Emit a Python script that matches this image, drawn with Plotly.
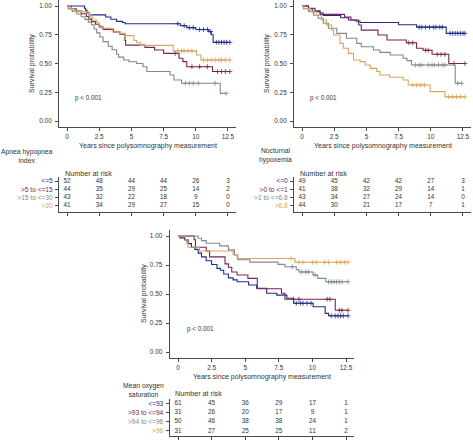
import plotly.graph_objects as go

W, H = 473, 441
FONT = "Liberation Sans, Arial, sans-serif"
TXT = "#333333"
AX = "#4a4a4a"

# ---------------- shared ticks ----------------
time_ticks = [0, 2.5, 5, 7.5, 10, 12.5]
time_tick_text = ["0", "2.5", "5", "7.5", "10", "12.5"]
prob_ticks = [0, 0.25, 0.5, 0.75, 1.0]
prob_tick_text = ["0.00", "0.25", "0.50", "0.75", "1.00"]
risk_times = [0, 2.5, 5, 7.5, 10, 12.5]
group_colors = ["#1f2c8f", "#7a2551", "#7d8b8c", "#d9a55c"]

# ---------------- Panel 1: Apnea hypopnea index ----------------
ahi_title = "Apnea hypopnea<br>index"
ahi_labels = ["<=5", ">5 to <=15", ">15 to <=30", ">30"]
ahi_g1_time = [0, 1.35, 1.45, 1.55, 1.7, 3.0, 3.4, 3.85, 4.3, 4.5, 8.8, 9.3, 10.0, 11.0, 11.2, 11.35]
ahi_g1_surv = [1.0, 0.981, 0.962, 0.942, 0.923, 0.904, 0.885, 0.866, 0.856, 0.846, 0.829, 0.812, 0.795, 0.777, 0.75, 0.684]
ahi_g1_cens = [8.6, 9.1, 9.5, 9.8, 10.3, 10.6, 10.9, 11.15, 11.6, 11.8, 12.0, 12.2, 12.4, 12.65]
ahi_g2_time = [0, 0.3, 0.7, 1.1, 1.5, 1.7, 1.9, 2.2, 2.5, 2.8, 3.6, 4.1, 4.5, 4.55, 6.05, 6.8, 7.5, 8.7, 9.0, 9.3, 11.3]
ahi_g2_surv = [1.0, 0.977, 0.955, 0.932, 0.909, 0.886, 0.864, 0.841, 0.818, 0.797, 0.775, 0.755, 0.70, 0.66, 0.64, 0.617, 0.588, 0.545, 0.516, 0.472, 0.43]
ahi_g2_cens = [8.4, 9.7, 10.3, 10.9, 11.7, 12.0, 12.3, 12.65]
ahi_g3_time = [0, 0.1, 0.4, 0.75, 1.1, 1.4, 1.65, 1.9, 2.1, 2.3, 2.55, 2.8, 3.2, 3.5, 3.85, 4.0, 4.4, 4.8, 5.4, 5.9, 6.2, 8.0, 8.3, 8.9, 11.9]
ahi_g3_surv = [1.0, 0.977, 0.953, 0.93, 0.907, 0.884, 0.86, 0.837, 0.80, 0.766, 0.73, 0.69, 0.65, 0.62, 0.58, 0.555, 0.53, 0.515, 0.50, 0.472, 0.43, 0.40, 0.357, 0.328, 0.24]
ahi_g3_cens = [9.2, 9.5, 9.8, 10.2, 11.5, 12.35]
ahi_g4_time = [0, 0.25, 0.6, 1.65, 1.85, 2.0, 2.3, 2.5, 2.7, 3.5, 4.1, 4.5, 5.2, 5.4, 5.7, 8.25, 10.05, 10.4]
ahi_g4_surv = [1.0, 0.976, 0.951, 0.927, 0.902, 0.878, 0.854, 0.829, 0.805, 0.781, 0.762, 0.742, 0.70, 0.68, 0.658, 0.61, 0.574, 0.53]
ahi_g4_cens = [8.6, 8.9, 9.1, 9.4, 9.7, 10.6, 10.9, 11.2, 11.5, 11.8, 12.0, 12.3, 12.65]
ahi_risk_g1 = [52, 48, 44, 44, 26, 3]
ahi_risk_g2 = [44, 35, 29, 25, 14, 2]
ahi_risk_g3 = [43, 32, 22, 18, 9, 0]
ahi_risk_g4 = [41, 34, 29, 27, 15, 0]

# ---------------- Panel 2: Nocturnal hypoxemia ----------------
nh_title = "Nocturnal<br>hypoxemia"
nh_labels = ["<=0", ">0 to <=1", ">1 to <=6.8", ">6.8"]
nh_g1_time = [0, 0.5, 1.0, 1.4, 1.65, 3.0, 3.6, 4.2, 4.5, 7.5, 8.9, 11.2]
nh_g1_surv = [1.0, 0.98, 0.959, 0.939, 0.918, 0.898, 0.878, 0.867, 0.857, 0.837, 0.816, 0.762]
nh_g1_cens = [9.1, 9.3, 9.6, 9.9, 10.2, 10.4, 10.7, 10.9, 11.5, 11.7, 11.9, 12.1, 12.3, 12.5, 12.65]
nh_g2_time = [0, 0.5, 0.8, 1.4, 3.3, 3.8, 4.4, 4.6, 5.9, 6.6, 8.1, 8.9, 9.4, 10.1, 11.4]
nh_g2_surv = [1.0, 0.976, 0.951, 0.927, 0.903, 0.878, 0.835, 0.79, 0.748, 0.704, 0.68, 0.632, 0.615, 0.58, 0.50]
nh_g2_cens = [8.3, 8.6, 9.6, 9.8, 10.5, 10.8, 11.1, 11.8, 12.65]
nh_g3_time = [0, 0.1, 0.5, 0.9, 1.25, 1.65, 2.05, 2.7, 3.45, 4.25, 4.6, 5.55, 6.05, 6.85, 7.85, 8.15, 8.5, 11.9]
nh_g3_surv = [1.0, 0.977, 0.953, 0.92, 0.893, 0.85, 0.806, 0.762, 0.72, 0.675, 0.646, 0.617, 0.597, 0.574, 0.545, 0.525, 0.487, 0.328]
nh_g3_cens = [8.8, 9.1, 9.3, 9.8, 10.1, 10.3, 10.6, 10.9, 11.1, 12.1, 12.4]
nh_g4_time = [0, 0.15, 0.6, 1.15, 1.5, 1.9, 2.3, 2.45, 2.95, 3.2, 3.6, 4.0, 4.5, 4.9, 5.3, 5.8, 6.05, 6.8, 7.85, 8.25, 9.95, 11.1]
nh_g4_surv = [1.0, 0.977, 0.95, 0.92, 0.878, 0.835, 0.79, 0.748, 0.675, 0.632, 0.588, 0.53, 0.516, 0.487, 0.458, 0.43, 0.40, 0.38, 0.357, 0.313, 0.255, 0.21]
nh_g4_cens = [8.6, 8.9, 9.2, 9.5, 11.4, 11.7, 12.0, 12.3, 12.65]
nh_risk_g1 = [49, 45, 42, 42, 27, 3]
nh_risk_g2 = [41, 38, 32, 29, 14, 1]
nh_risk_g3 = [43, 34, 27, 24, 14, 0]
nh_risk_g4 = [44, 30, 21, 17, 7, 1]

# ---------------- Panel 3: Mean oxygen saturation ----------------
mos_title = "Mean oxygen<br>saturation"
mos_labels = ["<=93", ">93 to <=94", ">94 to <=96", ">96"]
mos_g1_time = [0, 0.15, 0.5, 0.75, 1.0, 1.25, 1.5, 1.75, 2.1, 2.5, 2.9, 3.15, 3.4, 3.75, 4.1, 4.4, 5.25, 5.85, 6.6, 7.35, 8.1, 8.6, 10.05, 10.95, 11.2]
mos_g1_surv = [1.0, 0.984, 0.967, 0.934, 0.902, 0.885, 0.852, 0.82, 0.787, 0.754, 0.721, 0.705, 0.672, 0.639, 0.622, 0.606, 0.578, 0.549, 0.506, 0.49, 0.463, 0.42, 0.39, 0.333, 0.312]
mos_g1_cens = [8.8, 9.1, 9.3, 9.6, 9.9, 11.4, 11.7, 11.9, 12.1, 12.3, 12.65]
mos_g2_time = [0, 1.2, 1.3, 2.1, 2.35, 3.5, 3.75, 4.0, 4.4, 5.2, 5.9, 7.7, 7.95, 11.7]
mos_g2_surv = [1.0, 0.968, 0.903, 0.871, 0.82, 0.76, 0.73, 0.69, 0.664, 0.635, 0.545, 0.506, 0.455, 0.36]
mos_g2_cens = [8.6, 9.0, 11.1, 11.3, 12.0, 12.2, 12.65]
mos_g3_time = [0, 1.5, 1.75, 2.1, 3.1, 3.75, 4.2, 4.45, 5.35, 7.45, 7.95, 8.8, 9.0, 10.05, 10.4, 11.0]
mos_g3_surv = [1.0, 0.98, 0.96, 0.937, 0.915, 0.88, 0.836, 0.795, 0.775, 0.755, 0.735, 0.71, 0.69, 0.664, 0.635, 0.605]
mos_g3_cens = [8.5, 9.2, 9.5, 9.7, 10.2, 11.2, 11.4, 11.6, 11.8, 12.0, 12.2, 12.65]
mos_g4_time = [0, 0.55, 0.65, 0.75, 1.6, 4.1, 4.4, 8.7]
mos_g4_surv = [1.0, 0.968, 0.935, 0.903, 0.871, 0.839, 0.806, 0.774]
mos_g4_cens = [8.4, 9.0, 9.3, 10.0, 10.3, 10.9, 11.2, 11.8, 12.1, 12.4, 12.65]
mos_risk_g1 = [61, 45, 36, 29, 17, 1]
mos_risk_g2 = [31, 26, 20, 17, 9, 1]
mos_risk_g3 = [50, 46, 38, 38, 24, 1]
mos_risk_g4 = [31, 27, 25, 25, 11, 2]

# ---------------- layout geometry (pixels) ----------------
panels = [
    dict(title=ahi_title, labels=ahi_labels,
         times=[ahi_g1_time, ahi_g2_time, ahi_g3_time, ahi_g4_time],
         survs=[ahi_g1_surv, ahi_g2_surv, ahi_g3_surv, ahi_g4_surv],
         cens=[ahi_g1_cens, ahi_g2_cens, ahi_g3_cens, ahi_g4_cens],
         risks=[ahi_risk_g1, ahi_risk_g2, ahi_risk_g3, ahi_risk_g4],
         xpx=(59, 236), main_ypx=(0.25, 126.75), tab_ypx=(176.8, 212.0),
         tab_range=(0.265, 4.506), xtitle_y=146.5, ytitle_x=32.5,
         nar_y=173, grp_x=27, grp_y=156),
    dict(title=nh_title, labels=nh_labels,
         times=[nh_g1_time, nh_g2_time, nh_g3_time, nh_g4_time],
         survs=[nh_g1_surv, nh_g2_surv, nh_g3_surv, nh_g4_surv],
         cens=[nh_g1_cens, nh_g2_cens, nh_g3_cens, nh_g4_cens],
         risks=[nh_risk_g1, nh_risk_g2, nh_risk_g3, nh_risk_g4],
         xpx=(294, 471), main_ypx=(0.25, 126.75), tab_ypx=(176.8, 212.0),
         tab_range=(0.265, 4.506), xtitle_y=146.5, ytitle_x=267.5,
         nar_y=173, grp_x=275, grp_y=156),
    dict(title=mos_title, labels=mos_labels,
         times=[mos_g1_time, mos_g2_time, mos_g3_time, mos_g4_time],
         survs=[mos_g1_surv, mos_g2_surv, mos_g3_surv, mos_g4_surv],
         cens=[mos_g1_cens, mos_g2_cens, mos_g3_cens, mos_g4_cens],
         risks=[mos_risk_g1, mos_risk_g2, mos_risk_g3, mos_risk_g4],
         xpx=(169.6, 354.4), main_ypx=(230.2, 357.8), tab_ypx=(398.7, 435.5),
         tab_range=(0.511, 4.498), xtitle_y=377, ytitle_x=144,
         nar_y=393.8, grp_x=143, grp_y=390),
]


def fx(px):
    return px / W


def fy(py):
    return 1 - py / H


def surv_at(times, survs, t):
    v = survs[0]
    for ti, si in zip(times, survs):
        if ti <= t:
            v = si
    return v


fig = go.Figure()
layout = dict(
    template="none",
    width=W, height=H, margin=dict(l=0, r=0, t=0, b=0, autoexpand=False),
    paper_bgcolor="white", plot_bgcolor="white", showlegend=False,
    font=dict(family=FONT, size=6.5, color=TXT),
)
annotations = []
XR = [-0.625, 13.125]

for p_i, p in enumerate(panels):
    mi = 2 * p_i + 1
    ti = 2 * p_i + 2
    mx, my = f"x{mi if mi > 1 else ''}", f"y{mi if mi > 1 else ''}"
    tx, ty = f"x{ti}", f"y{ti}"
    xdom = [fx(p["xpx"][0]), fx(p["xpx"][1])]

    # main KM axes
    layout[f"xaxis{mi if mi > 1 else ''}"] = dict(
        domain=xdom, range=XR, anchor=my, showgrid=False, zeroline=False,
        automargin=False,
        showline=True, linecolor=AX, linewidth=1, ticks="outside", ticklen=3,
        tickcolor=AX, tickwidth=1, tickvals=time_ticks, ticktext=time_tick_text,
        tickfont=dict(size=6.4, color=TXT), ticklabelstandoff=1)
    layout[f"yaxis{mi if mi > 1 else ''}"] = dict(
        domain=[fy(p["main_ypx"][1]), fy(p["main_ypx"][0])], range=[-0.05, 1.05],
        anchor=mx, showgrid=False, zeroline=False, showline=True, linecolor=AX,
        automargin=False,
        linewidth=1, ticks="outside", ticklen=3, tickcolor=AX, tickwidth=1,
        tickvals=prob_ticks, ticktext=prob_tick_text,
        tickfont=dict(size=6.4, color=TXT), ticklabelstandoff=2)

    # risk table axes
    layout[f"xaxis{ti}"] = dict(
        domain=xdom, range=XR, anchor=ty, showgrid=False, zeroline=False,
        automargin=False,
        showline=True, linecolor=AX, linewidth=1, ticks="outside", ticklen=3,
        tickcolor=AX, tickwidth=1, tickvals=time_ticks, showticklabels=False)
    layout[f"yaxis{ti}"] = dict(
        domain=[fy(p["tab_ypx"][1]), fy(p["tab_ypx"][0])], range=list(p["tab_range"]),
        anchor=tx, showgrid=False, zeroline=False, showline=True, linecolor=AX,
        automargin=False,
        linewidth=1, ticks="outside", ticklen=3, tickcolor=AX, tickwidth=1,
        tickvals=[4, 3, 2, 1],
        ticktext=[f"<span style='color:{c}'>{lab}</span>"
                  for c, lab in zip(group_colors, p["labels"])],
        tickfont=dict(size=6.6), ticklabelstandoff=1)

    # curves
    for g in range(4):
        t, s, c = p["times"][g], p["survs"][g], p["cens"][g]
        end = max(c[-1], t[-1])
        fig.add_trace(go.Scatter(
            x=t + [end], y=s + [s[-1]], mode="lines", line_shape="hv",
            line=dict(color=group_colors[g], width=1.1), xaxis=mx, yaxis=my,
            hoverinfo="skip", cliponaxis=False))
        fig.add_trace(go.Scatter(
            x=c, y=[surv_at(t, s, ci) for ci in c], mode="markers",
            marker=dict(symbol="cross-thin", size=3.5,
                        line=dict(color=group_colors[g], width=0.8)),
            xaxis=mx, yaxis=my, hoverinfo="skip", cliponaxis=False))
        # numbers at risk
        fig.add_trace(go.Scatter(
            x=risk_times, y=[4 - g] * len(risk_times), mode="text",
            text=[str(v) for v in p["risks"][g]],
            textfont=dict(size=6.3, color=TXT, family=FONT),
            textposition="middle center", xaxis=tx, yaxis=ty, hoverinfo="skip",
            cliponaxis=False))

    # texts
    annotations.append(dict(text="p < 0.001", x=0.5, y=0.2, xref=mx, yref=my,
                            xanchor="left", yanchor="middle", showarrow=False,
                            font=dict(size=6.3, color=TXT)))
    annotations.append(dict(text="Years since polysomnography measurement",
                            x=6.25, xref=mx, y=fy(p["xtitle_y"]), yref="paper",
                            xanchor="center", yanchor="middle", showarrow=False,
                            font=dict(size=7, color=TXT)))
    annotations.append(dict(text="Survival probability", textangle=-90,
                            x=fx(p["ytitle_x"]), xref="paper", y=0.5, yref=my,
                            xanchor="center", yanchor="middle", showarrow=False,
                            font=dict(size=7, color=TXT)))
    annotations.append(dict(text="Number at risk", x=-0.35, xref=tx,
                            y=fy(p["nar_y"]), yref="paper", xanchor="left",
                            yanchor="middle", showarrow=False,
                            font=dict(size=7.2, color=TXT)))
    annotations.append(dict(text=p["title"], x=fx(p["grp_x"]), xref="paper",
                            y=fy(p["grp_y"]), yref="paper", xanchor="center",
                            yanchor="middle", showarrow=False, align="center",
                            font=dict(size=6.8, color=TXT)))

layout["annotations"] = annotations
fig.update_layout(**layout)
fig.write_html("out.html",
               config={"displayModeBar": False},
               post_script="document.body.style.margin='0px';")
